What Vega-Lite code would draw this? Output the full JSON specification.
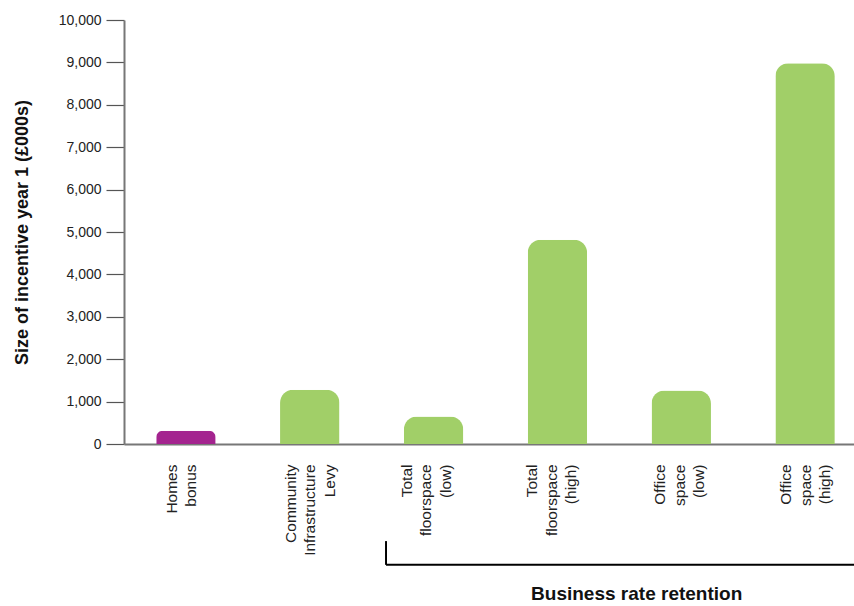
{
  "$schema": "https://vega.github.io/schema/vega-lite/v6.json",
  "width": 730,
  "height": 424,
  "autosize": "none",
  "padding": {"left": 124, "top": 20, "right": 0, "bottom": 162},
  "config": {"view": {"stroke": null}, "font": "Liberation Sans"},
  "datasets": {
    "bars": [
      {"category": "Homes bonus", "value": 310, "group": "homes"},
      {"category": "Community Infrastructure Levy", "value": 1280, "group": "other"},
      {"category": "Total floorspace (low)", "value": 650, "group": "other"},
      {"category": "Total floorspace (high)", "value": 4820, "group": "other"},
      {"category": "Office space (low)", "value": 1260, "group": "other"},
      {"category": "Office space (high)", "value": 8980, "group": "other"}
    ],
    "bracket": [
      {"x": 2.116, "x2": 6.3, "ytop": -2290, "ybottom": -2850, "lx": 4.14, "ly": -3540, "label": "Business rate retention"}
    ]
  },
  "layer": [
    {
      "data": {"name": "bars"},
      "mark": {"type": "bar", "cornerRadiusTopLeft": 13, "cornerRadiusTopRight": 13},
      "encoding": {
        "x": {
          "field": "category", "type": "nominal", "sort": null,
          "scale": {"range": [0, 743], "paddingInner": 0.52, "paddingOuter": 0.26},
          "axis": {
            "title": null, "labelAngle": -90, "labelAlign": "right", "labelBaseline": "middle",
            "labelExpr": "split(datum.label, ' ')", "labelFontSize": 15.5, "labelLineHeight": 19.5,
            "labelColor": "#222222", "ticks": false, "labelPadding": 20,
            "labelOffset": {
              "condition": [
                {"test": "datum.value == 'Homes bonus'", "value": -14},
                {"test": "datum.value == 'Community Infrastructure Levy'", "value": -19},
                {"test": "datum.value == 'Total floorspace (low)'", "value": -27},
                {"test": "datum.value == 'Total floorspace (high)'", "value": -25},
                {"test": "datum.value == 'Office space (low)'", "value": -21}
              ],
              "value": -19
            },
            "domainColor": "#777777", "domainWidth": 2
          }
        },
        "y": {
          "field": "value", "type": "quantitative",
          "scale": {"domain": [0, 10000], "nice": false},
          "axis": {
            "title": "Size of incentive year 1 (£000s)", "titleFontSize": 18, "titleFontWeight": "bold",
            "titleColor": "#111111", "titlePadding": 27,
            "values": [0, 1000, 2000, 3000, 4000, 5000, 6000, 7000, 8000, 9000, 10000],
            "format": ",.0f", "labelFontSize": 14, "labelColor": "#222222", "labelPadding": 5,
            "tickSize": 18, "tickColor": "#555555", "tickWidth": 1.2,
            "domainColor": "#777777", "domainWidth": 2, "grid": false
          }
        },
        "color": {
          "field": "group", "type": "nominal",
          "scale": {"domain": ["homes", "other"], "range": ["#a4248f", "#a1cf68"]},
          "legend": null
        }
      }
    },
    {
      "data": {"name": "bracket"},
      "layer": [
        {
          "mark": {"type": "rule", "color": "#000000", "strokeWidth": 2},
          "encoding": {
            "x": {"field": "x", "type": "quantitative", "scale": {"domain": [0, 6], "range": [0, 743]}, "axis": null},
            "y": {"field": "ytop", "type": "quantitative"},
            "y2": {"field": "ybottom"}
          }
        },
        {
          "mark": {"type": "rule", "color": "#000000", "strokeWidth": 2},
          "encoding": {
            "x": {"field": "x", "type": "quantitative", "scale": {"domain": [0, 6], "range": [0, 743]}, "axis": null},
            "x2": {"field": "x2"},
            "y": {"field": "ybottom", "type": "quantitative"}
          }
        },
        {
          "mark": {"type": "text", "fontSize": 19, "fontWeight": "bold", "color": "#111111", "align": "center", "baseline": "middle"},
          "encoding": {
            "x": {"field": "lx", "type": "quantitative", "scale": {"domain": [0, 6], "range": [0, 743]}, "axis": null},
            "y": {"field": "ly", "type": "quantitative"},
            "text": {"field": "label"}
          }
        }
      ]
    }
  ],
  "resolve": {"scale": {"x": "independent"}}
}
